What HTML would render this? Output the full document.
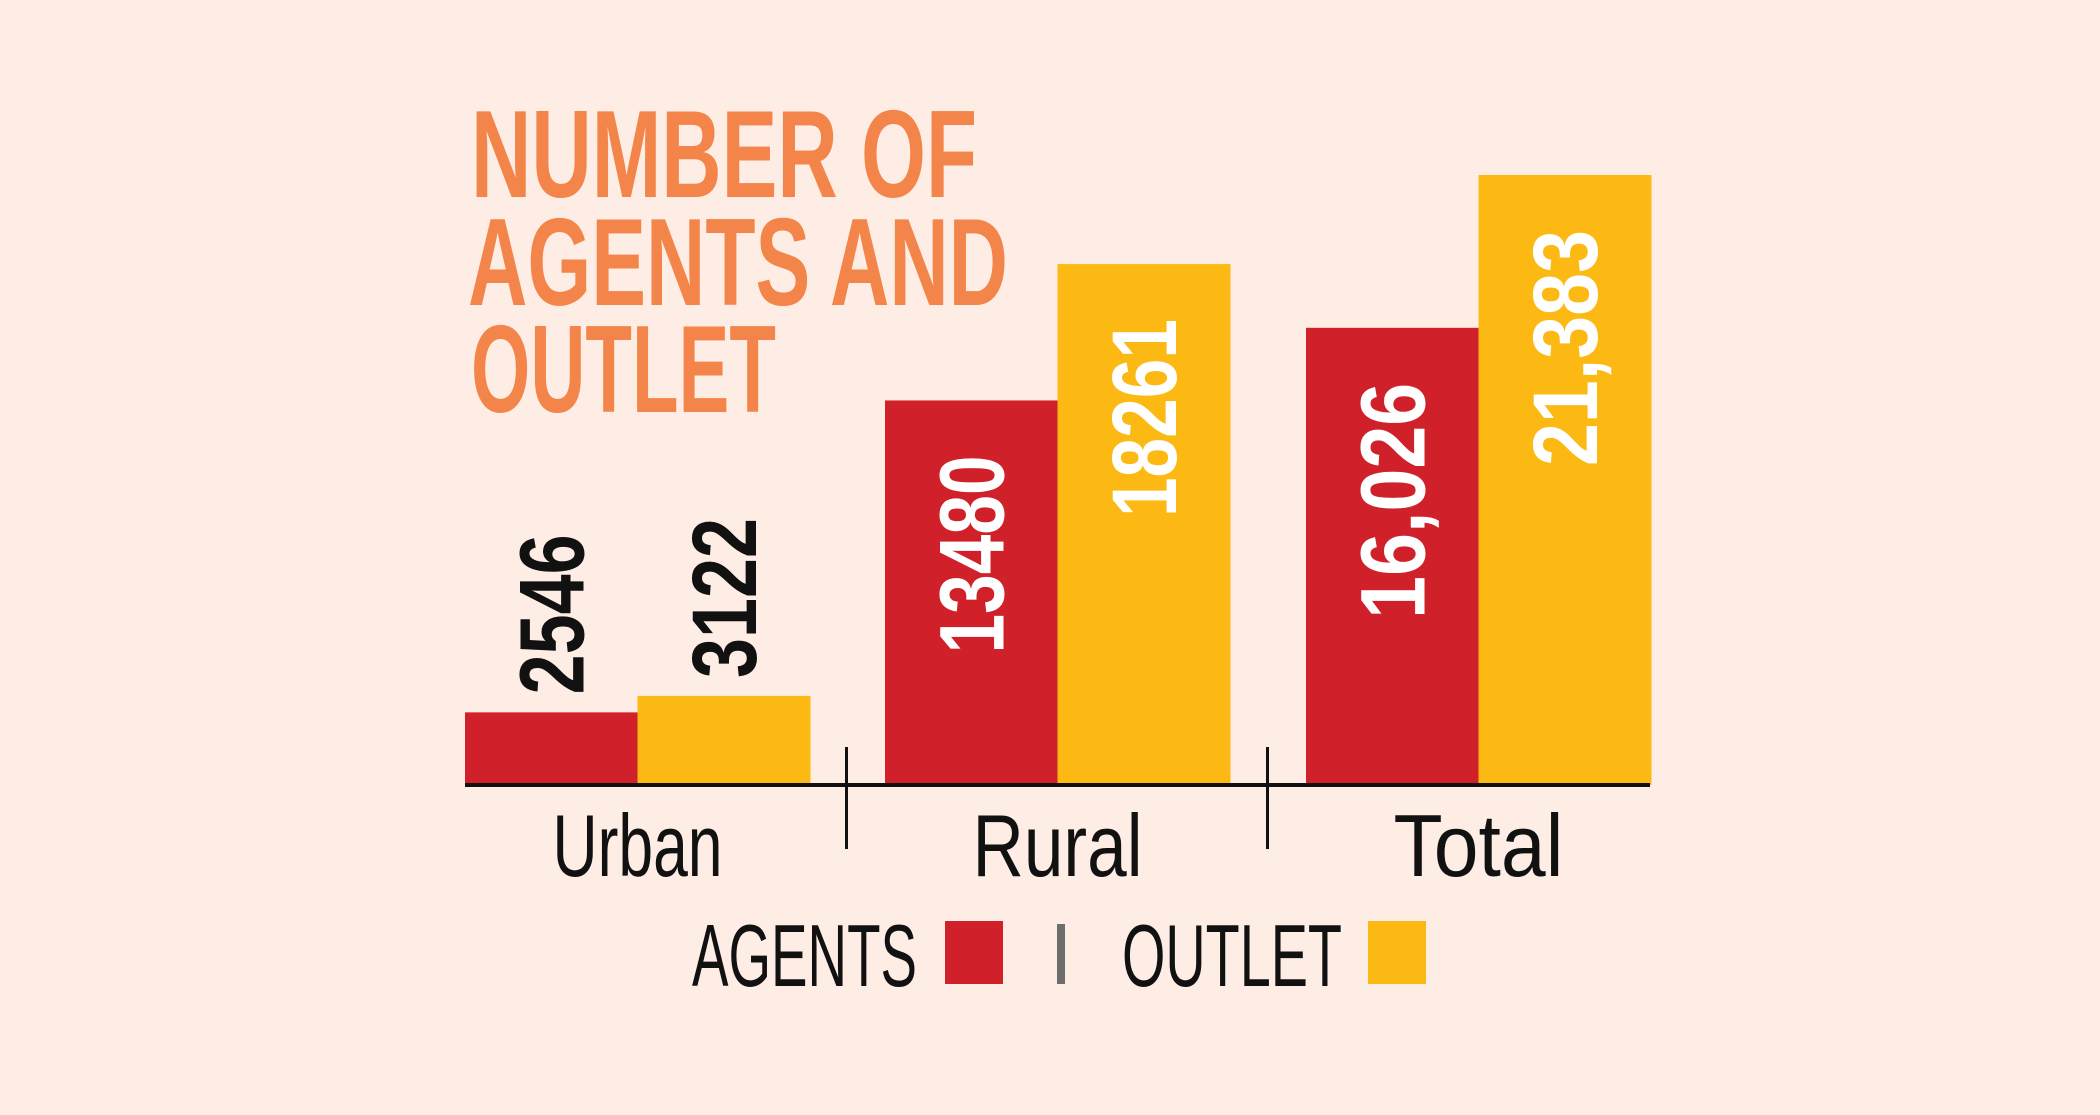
<!DOCTYPE html>
<html><head><meta charset="utf-8"><style>
html,body{margin:0;padding:0;background:#FDEDE4;}
svg{display:block;}
</style></head><body>
<svg id="chart" width="2100" height="1115" viewBox="0 0 2100 1115" xmlns="http://www.w3.org/2000/svg" font-family="'Liberation Sans Narrow','Liberation Sans',sans-serif">
<rect width="2100" height="1115" fill="#FDEDE4"/>
<g fill="#F4854A" font-weight="bold" font-size="124">
<text x="471" y="197" textLength="506" lengthAdjust="spacingAndGlyphs">NUMBER OF</text>
<text x="468" y="305" textLength="540" lengthAdjust="spacingAndGlyphs">AGENTS AND</text>
<text x="471" y="412" textLength="305" lengthAdjust="spacingAndGlyphs">OUTLET</text>
</g>
<g id="bars"></g>
<g id="labels"></g>
<rect x="465" y="783" width="1185" height="4" fill="#111"/>
<rect x="845" y="747" width="3" height="102" fill="#111"/>
<rect x="1266" y="747" width="3" height="102" fill="#111"/>
<g id="cats" font-size="88" fill="#111"></g>
<g>
<text x="692" y="986" font-size="88" fill="#111" textLength="225" lengthAdjust="spacingAndGlyphs">AGENTS</text>
<rect x="945" y="921" width="58" height="63" fill="#D0202A"/>
<rect x="1057" y="924" width="8" height="60" fill="#6d6d6d"/>
<text x="1122" y="986" font-size="88" fill="#111" textLength="220" lengthAdjust="spacingAndGlyphs">OUTLET</text>
<rect x="1368" y="921" width="58" height="63" fill="#FDB913"/>
</g>
</svg>
<script>
const categories = ["Urban", "Rural", "Total"];
const agents = [2546, 13480, 16026];
const outlets = [3122, 18261, 21383];
const agentLabels = ["2546", "13480", "16,026"];
const outletLabels = ["3122", "18261", "21,383"];

const NS = "http://www.w3.org/2000/svg";
const baseY = 785, pxPerUnit = 610 / 21383;
const groupX = [465, 885, 1306], barW = 172.5;
const y = v => baseY - v * pxPerUnit;
const bars = document.getElementById('bars');
const labels = document.getElementById('labels');
const cats = document.getElementById('cats');
function mk(tag, attrs, parent) {
  const e = document.createElementNS(NS, tag);
  for (const k in attrs) e.setAttribute(k, attrs[k]);
  parent.appendChild(e);
  return e;
}
categories.forEach((c, i) => {
  const series = [[agents[i], agentLabels[i], '#D0202A', 'agents'], [outlets[i], outletLabels[i], '#FDB913', 'outlet']];
  series.forEach((s, j) => {
    const x = groupX[i] + j * barW;
    const top = y(s[0]);
    const r = mk('rect', {x: x, y: top, width: barW + 0.5, height: baseY - top, fill: s[2]}, bars);
    
    
    const len = s[1].length * 38 + 8;
    const inside = (baseY - top) > len + 60;
    const cx = x + barW / 2 + 32;
    const startY = inside ? top + 55 + len : top - 18;
    const t = mk('text', {x: 0, y: 0, 'font-size': 92, 'font-weight': 'bold', fill: inside ? '#fff' : '#111',
      'font-family': "'Liberation Sans',sans-serif", textLength: len, lengthAdjust: 'spacingAndGlyphs',
      transform: 'translate(' + cx + ',' + startY + ') rotate(-90)'}, labels);
    t.textContent = s[1];
    
    
  });
  const ct = mk('text', {x: groupX[i] + barW, y: 876, 'text-anchor': 'middle', textLength: c.length * 34, lengthAdjust: 'spacingAndGlyphs'}, cats);
  ct.textContent = c;
  
  
});
</script>
</body></html>
